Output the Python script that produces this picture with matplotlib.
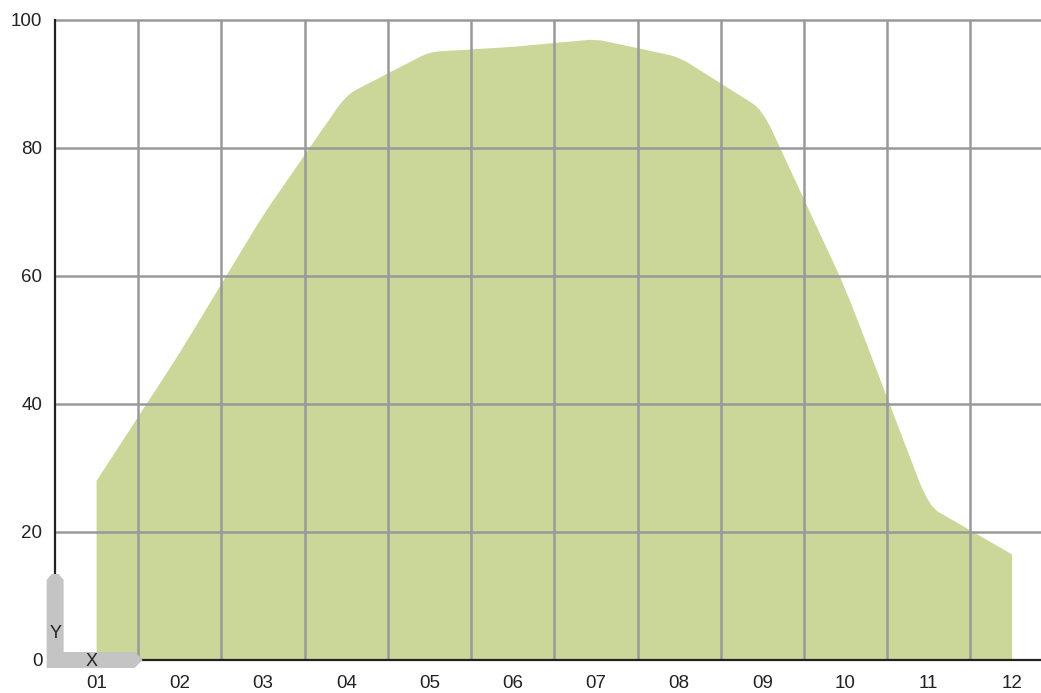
import matplotlib
matplotlib.use("Agg")
import matplotlib.pyplot as plt
from matplotlib.path import Path
from matplotlib.patches import PathPatch, Polygon
import numpy as np

categories = ["01", "02", "03", "04", "05", "06", "07", "08", "09", "10", "11", "12"]
values = [28.0, 48.0, 69.5, 88.3, 95.0, 95.8, 97.0, 94.2, 86.0, 58.0, 24.0, 16.5]
y_ticks = [0, 20, 40, 60, 80, 100]

plt.rcParams['font.family'] = ['Liberation Sans', 'DejaVu Sans']

W, H = 1041, 693
fig = plt.figure(figsize=(W / 100, H / 100), dpi=100)
ax = fig.add_axes([55 / W, 1 - 660 / H, 1 - 55 / W, (660 - 20) / H])

xs = np.arange(1, len(categories) + 1, dtype=float)
ys = np.array(values)

# area path with slightly rounded corners
r = 0.12
verts = [(xs[0], 0.0), (xs[0], ys[0])]
codes = [Path.MOVETO, Path.LINETO]
for i in range(1, len(xs) - 1):
    p0 = np.array([xs[i - 1], ys[i - 1]])
    p1 = np.array([xs[i], ys[i]])
    p2 = np.array([xs[i + 1], ys[i + 1]])
    a = p1 + (p0 - p1) * r
    b = p1 + (p2 - p1) * r
    verts += [tuple(a), tuple(p1), tuple(b)]
    codes += [Path.LINETO, Path.CURVE3, Path.CURVE3]
verts += [(xs[-1], ys[-1]), (xs[-1], 0.0), (xs[0], 0.0)]
codes += [Path.LINETO, Path.LINETO, Path.CLOSEPOLY]
ax.add_patch(PathPatch(Path(verts, codes), facecolor="#cbd699", edgecolor="none", zorder=1))

ax.set_xlim(0.5, 1 + (W - 96) / 83.27)
ax.set_ylim(0, 100)

gc = "#999999"
for k in range(1, len(categories)):
    ax.axvline(k + 0.5, color=gc, lw=1.8, zorder=2)
for yv in y_ticks[1:]:
    ax.axhline(yv, color=gc, lw=1.8, zorder=2, clip_on=False)

ax.set_xticks(xs)
ax.set_xticklabels(categories)
ax.set_yticks(y_ticks)
ax.set_yticklabels([str(v) for v in y_ticks])
ax.tick_params(axis='both', length=0, labelsize=13.5, colors="#222222")
ax.tick_params(axis='x', pad=10.5)
ax.tick_params(axis='y', pad=9)

for s in ["top", "right"]:
    ax.spines[s].set_visible(False)
ax.spines["left"].set_color("#222222")
ax.spines["left"].set_linewidth(1.6)
ax.spines["bottom"].set_color("#222222")
ax.spines["bottom"].set_linewidth(1.6)
ax.spines["left"].set_zorder(3)
ax.spines["bottom"].set_zorder(3)

# axis icon (in pixel coords converted to data)
def px(x, y):
    return (1 + (x - 96) / 83.27, (660 - y) / 6.4)

icon = [px(46, 580), px(51, 574), px(58, 574), px(63, 580), px(63, 652),
        px(134, 652), px(142, 660), px(134, 668), px(46, 668)]
ax.add_patch(Polygon(icon, closed=True, facecolor="#c4c4c4", edgecolor="none",
                     zorder=4, clip_on=False))
ax.text(*px(55, 633), "Y", ha="center", va="center", fontsize=13, color="#222222", zorder=5)
ax.text(*px(91, 661), "X", ha="center", va="center", fontsize=13, color="#222222", zorder=5)

fig.savefig("out.png", dpi=100)
